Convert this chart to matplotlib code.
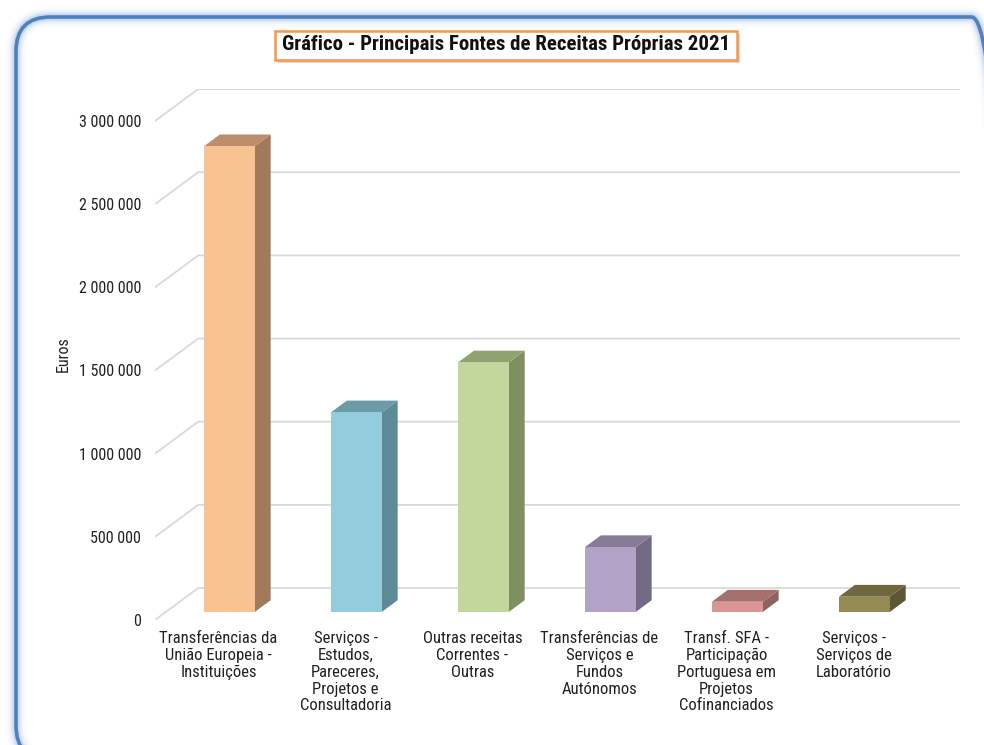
import matplotlib
matplotlib.use("Agg")
import matplotlib.pyplot as plt
from matplotlib.patches import Polygon, FancyBboxPatch, Rectangle
from matplotlib.ticker import FuncFormatter
from matplotlib import font_manager

# ---------------- data ----------------
categories = [
    "Transferências da\nUnião Europeia -\nInstituições",
    "Serviços -\nEstudos,\nPareceres,\nProjetos e\nConsultadoria",
    "Outras receitas\nCorrentes -\nOutras",
    "Transferências de\nServiços e\nFundos\nAutónomos",
    "Transf. SFA -\nParticipação\nPortuguesa em\nProjetos\nCofinanciados",
    "Serviços -\nServiços de\nLaboratório",
]
values = [2800000, 1200000, 1500000, 390000, 62000, 92000]
front_colors = ["#F9C291", "#93CDDD", "#C3D69B", "#B3A2C7", "#D99694", "#948A54"]
top_colors = ["#BC8E6C", "#6C9BA7", "#91A271", "#877C98", "#A4716F", "#6F683F"]
side_colors = ["#A07A5A", "#5E8A96", "#808F60", "#746A86", "#8E6463", "#5D5735"]
title = "Gráfico - Principais Fontes de Receitas Próprias 2021"
ylabel = "Euros"
ymax = 3000000
ystep = 500000

# ---------------- fonts ----------------
entries = font_manager.fontManager.ttflist
avail = {f.name for f in entries}
narrow_cands = ["Liberation Sans Narrow", "Arial Narrow", "Roboto Condensed",
                "Open Sans Condensed", "Noto Sans Condensed", "DejaVu Sans Condensed"]
narrow = [f for f in narrow_cands if f in avail]
fam = narrow + [f for f in ["Liberation Sans", "DejaVu Sans"] if f in avail]
if not fam:
    fam = ["DejaVu Sans"]
plt.rcParams["font.family"] = fam

W, H = 984, 745
fig = plt.figure(figsize=(W / 100, H / 100), dpi=100)
fig.patch.set_facecolor("white")

# ---------------- frame (rounded blue border with glow) ----------------
for lw, a in [(14, 0.06), (10, 0.10), (7, 0.16), (5, 0.25)]:
    fig.patches.append(FancyBboxPatch((16 / W, 1 - 760 / H), 990 / W, 743 / H,
                                      boxstyle="round,pad=0,rounding_size=0.035",
                                      transform=fig.transFigure, fill=False,
                                      ec="#8DB3E2", lw=lw, alpha=a, zorder=0,
                                      mutation_aspect=W / H))
fig.patches.append(FancyBboxPatch((16 / W, 1 - 760 / H), 990 / W, 743 / H,
                                  boxstyle="round,pad=0,rounding_size=0.035",
                                  transform=fig.transFigure, fill=False,
                                  ec="#4F81BD", lw=2.6, zorder=1,
                                  mutation_aspect=W / H))

# ---------------- axes geometry ----------------
DX = 0.34          # depth offset in category units
DY = 192000        # depth offset in value units
n = len(values)
left_px, right_px = 155, 155 + 127 * (n + DX)
bottom_px = 620
top_px = bottom_px - 499 * (ymax + DY) / ymax
ax = fig.add_axes([left_px / W, 1 - bottom_px / H,
                   (right_px - left_px) / W, (bottom_px - top_px) / H])
ax.set_xlim(0, n + DX)
ax.set_ylim(0, ymax + DY)
for s in ax.spines.values():
    s.set_visible(False)
ax.patch.set_visible(False)

# gridlines: diagonal on side wall + horizontal on back wall
grid_vals = list(range(0, ymax + 1, ystep))
for v in grid_vals:
    ax.plot([0, DX, n + DX], [v, v + DY, v + DY], color="#D9D9D9", lw=1.3,
            zorder=1, solid_capstyle="butt")

# bars
bw = 0.40
f0, f1 = 0.25, 0.62
for i, v in enumerate(values):
    c = i + 0.5
    x0 = c - bw / 2 + f0 * DX
    x1 = c + bw / 2 + f0 * DX
    yb = f0 * DY
    yt = v + f0 * DY
    ddx = (f1 - f0) * DX
    ddy = (f1 - f0) * DY
    ax.add_patch(Polygon([(x1, yb), (x1 + ddx, yb + ddy), (x1 + ddx, yt + ddy), (x1, yt)],
                         closed=True, fc=side_colors[i], ec="none", zorder=3))
    ax.add_patch(Polygon([(x0, yt), (x1, yt), (x1 + ddx, yt + ddy), (x0 + ddx, yt + ddy)],
                         closed=True, fc=top_colors[i], ec="none", zorder=3))
    ax.add_patch(Rectangle((x0, yb), x1 - x0, v, fc=front_colors[i], ec="none", zorder=4))

# ticks
ax.set_yticks(grid_vals)
ax.yaxis.set_major_formatter(FuncFormatter(lambda v, p: f"{int(v):,}".replace(",", " ")))
ax.tick_params(axis="y", length=0, pad=10, labelsize=11.5, labelcolor="#222222")
ax.set_xticks([i + 0.5 for i in range(n)])
ax.set_xticklabels(categories, fontsize=12, color="#222222", linespacing=1.15,
                   va="top", ha="center")
ax.tick_params(axis="x", length=0, pad=8)
ax.set_ylabel(ylabel, fontsize=11.5, color="#222222", labelpad=6)

# ---------------- title box ----------------
tx, ty = 506 / W, 1 - 45 / H
bw_t, bh_t = 462 / W, 29 / H
fig.patches.append(Rectangle((tx - bw_t / 2 + 3 / W, ty - bh_t / 2 - 3 / H), bw_t, bh_t,
                             transform=fig.transFigure, fc="#BFBFBF", ec="none",
                             alpha=0.6, zorder=2))
fig.patches.append(Rectangle((tx - bw_t / 2, ty - bh_t / 2), bw_t, bh_t,
                             transform=fig.transFigure, fc="white", ec="#F79646",
                             lw=1.8, zorder=3))
fig.text(tx, ty, title, ha="center", va="center", fontsize=15 if narrow else 12,
         fontweight="bold", color="#111111", zorder=4)

fig.savefig("out.png", dpi=100, facecolor="white")
